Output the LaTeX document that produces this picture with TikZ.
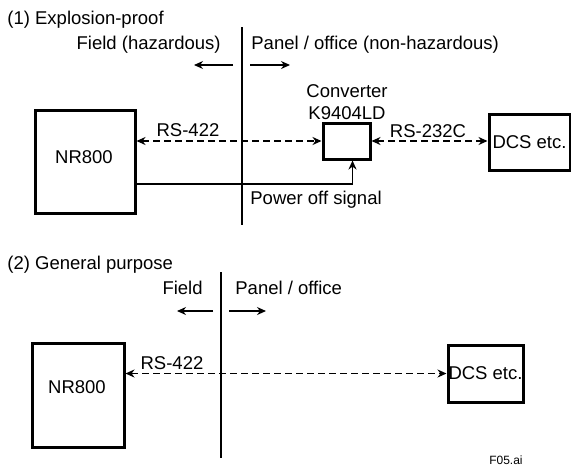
\documentclass[tikz,border=0pt]{standalone}
\usepackage{fontspec}
\setmainfont{Liberation Sans}
\usetikzlibrary{arrows.meta,positioning}

\tikzset{
	unit/.style={draw, line width=1.5pt, inner sep=0pt},
	wall/.style={line width=1.3pt},
	sig/.style={line width=0.8pt, dash pattern=on 3.5pt off 2pt, {Stealth[length=4.5pt,width=4pt]}-{Stealth[length=4.5pt,width=4pt]}},
	ctrl/.style={line width=0.8pt, -{Stealth[length=4.5pt,width=4pt]}},
	side/.style={line width=0.6pt, -{Stealth[length=4.5pt,width=4pt]}},
}

\begin{document}
\begin{tikzpicture}[x=0.5pt, y=-0.5pt, font=\fontsize{9.25pt}{11pt}\selectfont]
	\useasboundingbox (0,0) rectangle (571,467);
	% (1) explosion-proof
	\begin{scope}
		\node[anchor=west, inner sep=0pt] (title1) at (7,20) {(1) Explosion-proof};
		\coordinate (wt1) at (242,27);
		\coordinate (wb1) at (242,225);
		\draw[wall] (wt1) -- (wb1);
		\node[anchor=east, inner sep=0pt] (field1) at (221,45) {Field (hazardous)};
		\node[anchor=west, inner sep=0pt] (panel1) at (251,45) {Panel / office (non-hazardous)};
		\coordinate (la1) at (233,65);
		\coordinate (lb1) at (194,65);
		\coordinate (ra1) at (250,65);
		\coordinate (rb1) at (290,65);
		\draw[side] (la1) -- (lb1);
		\draw[side] (ra1) -- (rb1);
		% devices
		\node[unit, minimum width=50pt, minimum height=51.5pt] (nr1) at (85,161.5) {};
		\node (nr1txt) at (84,157) {NR800};
		\node[unit, minimum width=23.5pt, minimum height=18pt] (conv1) at (346.5,141) {};
		\node[align=center, inner sep=0pt] (conv1txt) at (347,102) {Converter\\K9404LD};
		\node[unit, minimum width=40.5pt, minimum height=28pt] (dcs1) at (529.5,142) {DCS etc.};
		% links
		\draw[sig] (nr1.east |- conv1.west) -- (conv1.west);
		\node (rs1) at (188,130) {RS-422};
		\draw[sig] (conv1.east) -- (dcs1.west |- conv1.east);
		\node (rs2) at (428,131) {RS-232C};
		\coordinate (pw1) at (0,184);
		\draw[ctrl] (nr1.east |- pw1) -| ([xshift=3pt]conv1.south);
		\node[anchor=west, inner sep=0pt] (pwtxt) at (250,200) {Power off signal};
	\end{scope}
	% (2) general purpose
	\begin{scope}
		\node[anchor=west, inner sep=0pt] (title2) at (7,265) {(2) General purpose};
		\coordinate (wt2) at (221,272);
		\coordinate (wb2) at (221,458);
		\draw[wall] (wt2) -- (wb2);
		\node[anchor=east, inner sep=0pt] (field2) at (203,288) {Field};
		\node[anchor=west, inner sep=0pt] (panel2) at (235,288) {Panel / office};
		\coordinate (la2) at (213,311);
		\coordinate (lb2) at (177,311);
		\coordinate (ra2) at (229,311);
		\coordinate (rb2) at (266,311);
		\draw[side] (la2) -- (lb2);
		\draw[side] (ra2) -- (rb2);
		\node[unit, minimum width=46pt, minimum height=52pt] (nr2) at (78,395) {};
		\node (nr2txt) at (77,387) {NR800};
		\node[unit, minimum width=37.5pt, minimum height=28.5pt] (dcs2) at (485.5,373.5) {DCS etc.};
		\draw[sig] (nr2.east |- dcs2.west) -- (dcs2.west);
		\node (rs3) at (172,363) {RS-422};
	\end{scope}
	\node[anchor=east, inner sep=0pt, font=\fontsize{6pt}{7pt}\selectfont] (fig) at (523,460) {F05.ai};
\end{tikzpicture}
\end{document}
